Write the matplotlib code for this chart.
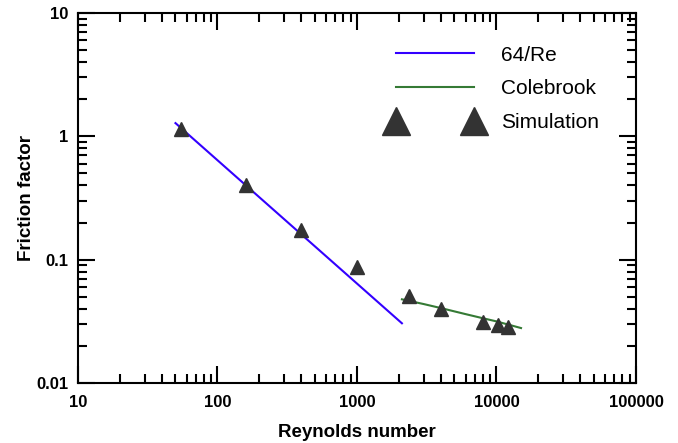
import matplotlib
matplotlib.use('Agg')
import matplotlib.pyplot as plt
from matplotlib.ticker import LogLocator, NullFormatter, FixedLocator, FixedFormatter

plt.rcParams['font.family'] = ['Liberation Sans', 'DejaVu Sans']

# laminar line 64/Re (end points)
lam_re = [50, 2100]
lam_f = [1.28, 0.0305]

# Colebrook curve
cole_re = [2100, 3000, 4000, 6000, 8000, 10000, 15000]
cole_f = [0.0477, 0.0437, 0.0405, 0.0362, 0.0335, 0.0316, 0.0279]

# simulation points
sim_re = [55, 160, 400, 1000, 2370, 4000, 8000, 10300, 12000]
sim_f = [1.15, 0.40, 0.173, 0.088, 0.051, 0.040, 0.031, 0.0293, 0.0284]

xticks = [10, 100, 1000, 10000, 100000]
xlabels = ['10', '100', '1000', '10000', '100000']
yticks = [0.01, 0.1, 1, 10]
ylabels = ['0.01', '0.1', '1', '10']

fig = plt.figure(figsize=(6.78, 4.43), dpi=100)
ax = fig.add_axes([0.115, 0.1354, 0.823, 0.8353])

ax.plot(lam_re, lam_f, color='#3300ff', lw=1.5, label='64/Re', zorder=2)
ax.plot(cole_re, cole_f, color='#357a35', lw=1.5, label='Colebrook', zorder=2)
ax.plot(sim_re, sim_f, ls='none', marker='^', ms=10, color='#333333',
        mec='#333333', label='Simulation', zorder=3)

ax.set_xscale('log')
ax.set_yscale('log')
ax.set_xlim(10, 100000)
ax.set_ylim(0.01, 10)

ax.xaxis.set_major_locator(FixedLocator(xticks))
ax.xaxis.set_major_formatter(FixedFormatter(xlabels))
ax.yaxis.set_major_locator(FixedLocator(yticks))
ax.yaxis.set_major_formatter(FixedFormatter(ylabels))
ax.xaxis.set_minor_locator(LogLocator(base=10, subs=range(2, 10), numticks=20))
ax.yaxis.set_minor_locator(LogLocator(base=10, subs=range(2, 10), numticks=20))
ax.xaxis.set_minor_formatter(NullFormatter())
ax.yaxis.set_minor_formatter(NullFormatter())

ax.tick_params(which='both', direction='in', top=True, right=True, width=1.5)
ax.tick_params(which='major', length=12, labelsize=12)
ax.tick_params(axis='x', which='major', pad=8.5)
ax.tick_params(axis='y', which='major', pad=7)
ax.tick_params(which='minor', length=6.5)
for lbl in ax.get_xticklabels() + ax.get_yticklabels():
    lbl.set_fontweight('bold')
for sp in ax.spines.values():
    sp.set_linewidth(1.5)

ax.set_xlabel('Reynolds number', fontsize=13.5, fontweight='bold', labelpad=10)
ax.set_ylabel('Friction factor', fontsize=13.5, fontweight='bold', labelpad=1)

leg = fig.legend(loc='upper left', bbox_to_anchor=(0.575, 0.897), frameon=False,
                 fontsize=15, handlelength=4.35, handletextpad=1.0, numpoints=2,
                 markerscale=2, labelspacing=0.7, borderpad=0, borderaxespad=0)

fig.savefig('out.png', dpi=100)
